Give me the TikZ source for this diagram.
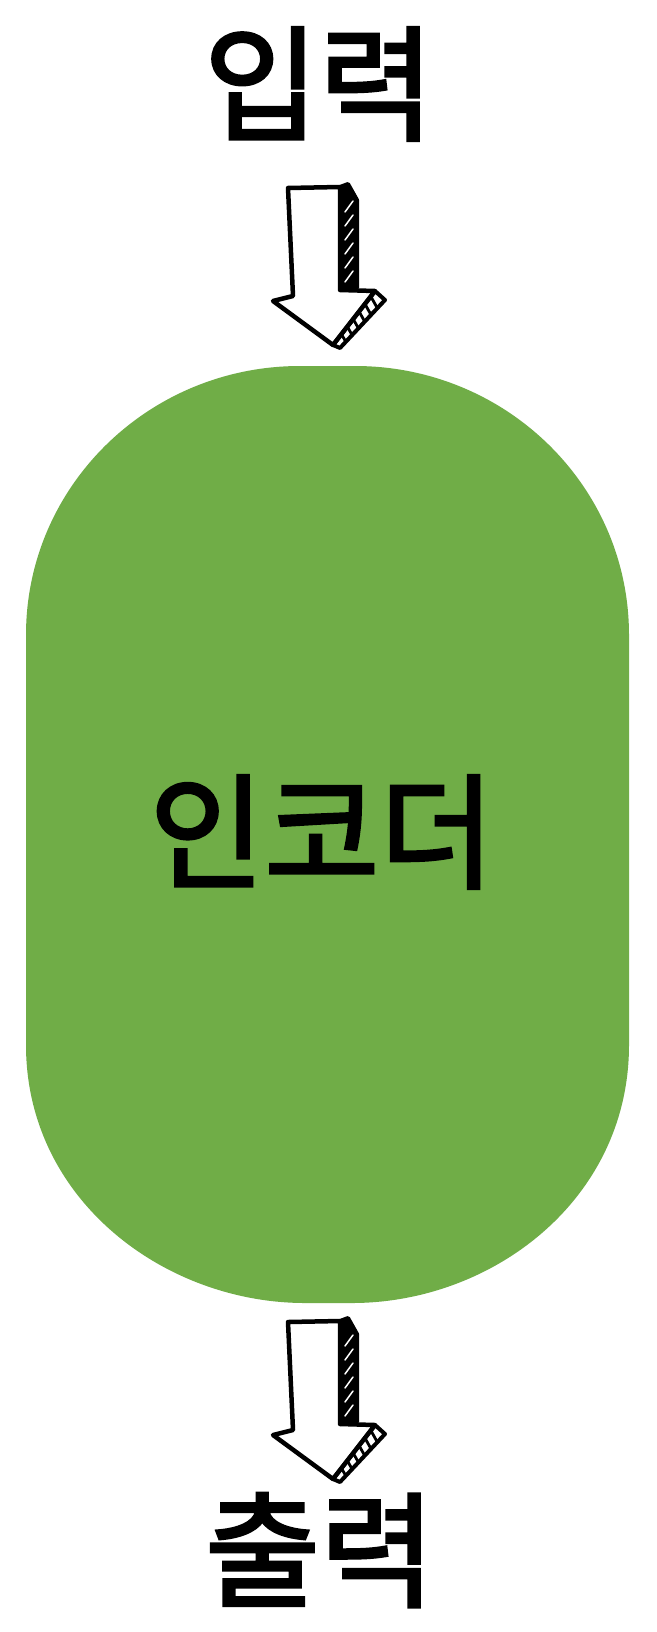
\documentclass[tikz,border=0pt]{standalone}
\usepackage{fontspec}
\newfontfamily\krfont[FakeBold=2.5]{Noto Sans CJK KR}
\definecolor{encgreen}{RGB}{112,173,71}
\tikzset{
  lbl/.style={font=\krfont\fontsize{125}{130}\selectfont, inner sep=0pt, text=black},
  sketcharrow/.pic={
    \fill[black] (52,-1) -- (60,-4) -- (69,12) -- (69,100) -- (52,102) -- cycle;
    \foreach \yy in {18,32,46,60,74,88} \draw[white,line width=1.5pt,line cap=round] (57,\yy+6) -- (65,\yy-5);
    \filldraw[fill=white, draw=black, line width=4pt, line join=round] (87,103) -- (97,112) -- (52,160) -- (45,157) -- cycle;
    \foreach \t in {0.1,0.24,0.38,0.52,0.66,0.8} \draw[line width=2.8pt] ({87-42*\t},{103+54*\t}) -- ({97-45*(\t+0.07)},{112+48*(\t+0.07)});
    \draw[line width=4.5pt, line join=round] (0,0) -- (52,-1) -- (52,102) -- (87,103) -- (45,157) -- (-15,113) -- (5,108) -- cycle;
    \draw[line width=4pt, line join=round] (52,-1) -- (60,-4) -- (69,12) -- (69,100) -- (52,102);
  }
}
\begin{document}
\begin{tikzpicture}[x=1pt,y=-1pt]
\useasboundingbox (0,0) rectangle (656,1632);
\fill[white] (0,0) rectangle (656,1632);
\fill[encgreen] (300,366) -- (355,366) .. controls (506,366) and (629,486) .. (629,635)
  -- (629,1045) .. controls (629,1200) and (492,1303) .. (352,1303)
  -- (305,1303) .. controls (165,1303) and (26,1200) .. (26,1045)
  -- (26,635) .. controls (26,486) and (149,366) .. (300,366) -- cycle;
\node[lbl] (in) at (319,84) {입력};
\node[lbl] (enc) at (322,832) {인코더};
\node[lbl] (out) at (320,1550) {출력};
\coordinate (a1) at (288,188);
\coordinate (a2) at (288,1322);
\pic at (a1) {sketcharrow};
\pic at (a2) {sketcharrow};
\end{tikzpicture}
\end{document}
